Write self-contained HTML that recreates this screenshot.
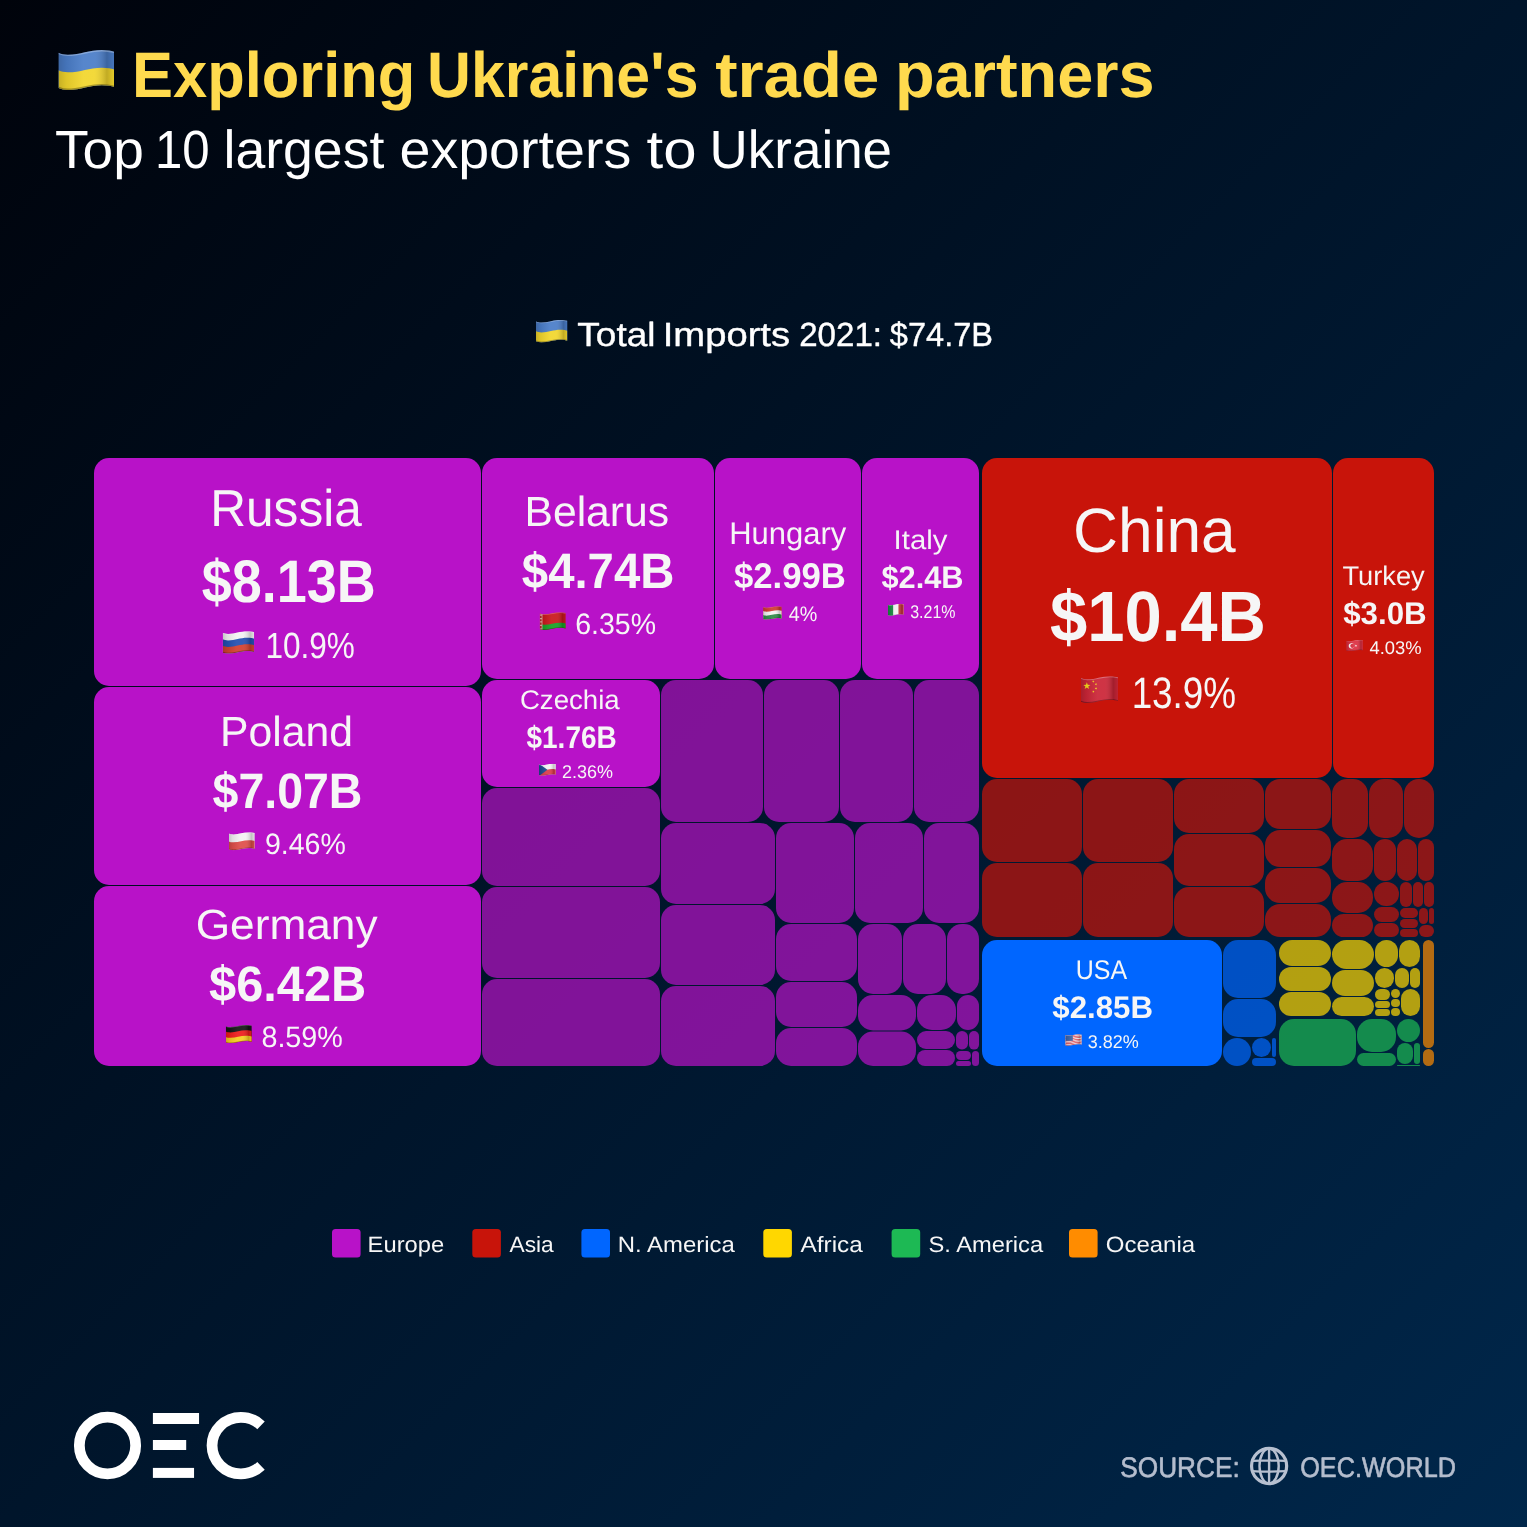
<!DOCTYPE html>
<html lang="en">
<head>
<meta charset="utf-8">
<meta name="viewport" content="width=1527">
<title>Exploring Ukraine's trade partners - Top 10 largest exporters to Ukraine</title>
<style>
html,body{margin:0;padding:0;background:#00122a;}
body{width:1527px;height:1527px;}
#card{position:relative;width:1527px;height:1527px;overflow:hidden;background:linear-gradient(135deg,#00030b 0%,#00274b 100%);}
#art{position:absolute;left:0;top:0;width:1527px;height:1527px;display:block;}
text{font-family:'Liberation Sans',sans-serif;white-space:pre;text-rendering:geometricPrecision;stroke-linejoin:round;}.b{font-weight:bold;}
.eu{fill:#B812C8;}
.as{fill:#C8140A;}
.na{fill:#0066FF;}
.af{fill:#FFD700;}
.sa{fill:#1DB954;}
.oc{fill:#FF8C00;}
.d{fill-opacity:0.7;}
</style>
</head>
<body>
<main id="card">
<svg id="art" width="1527" height="1527" viewBox="0 0 1527 1527">
<defs>
<clipPath id="fc"><path d="M0,4.87C6,7.35 10,8.4 17,8.4C40,8.4 55,0 78,0C88,0 95,1.68 100,3.11L100,66.71C95,65.28 88,63.6 78,63.6C55,63.6 40,72 17,72C10,72 6,70.95 0,68.47Z"/></clipPath>
<linearGradient id="fs" x1="0" y1="0" x2="1" y2="0"><stop offset="0" stop-color="#000" stop-opacity="0.18"/><stop offset="0.14" stop-color="#000" stop-opacity="0.08"/><stop offset="0.45" stop-color="#fff" stop-opacity="0.07"/><stop offset="0.64" stop-color="#fff" stop-opacity="0.07"/><stop offset="0.87" stop-color="#000" stop-opacity="0.2"/><stop offset="1" stop-color="#000" stop-opacity="0.06"/></linearGradient>
<g id="fe" fill="none" stroke-width="5"><path d="M0,4.87C6,7.35 10,8.4 17,8.4C40,8.4 55,0 78,0C88,0 95,1.68 100,3.11" stroke="#fff" stroke-opacity="0.28"/><path d="M0,68.47C6,70.95 10,72 17,72C40,72 55,63.6 78,63.6C88,63.6 95,65.28 100,66.71" stroke="#000" stroke-opacity="0.3"/></g>
</defs>
<g id="treemap">
<rect class="eu" x="94" y="458" width="387" height="228" rx="15"/>
<rect class="eu" x="94" y="687" width="387" height="198" rx="15"/>
<rect class="eu" x="94" y="886" width="387" height="180" rx="15"/>
<rect class="eu" x="482" y="458" width="232" height="221" rx="15"/>
<rect class="eu" x="715" y="458" width="146" height="221" rx="15"/>
<rect class="eu" x="862" y="458" width="117" height="221" rx="15"/>
<rect class="eu" x="482" y="680" width="178" height="107" rx="15"/>
<rect class="as" x="982" y="458" width="350" height="320" rx="15"/>
<rect class="as" x="1333" y="458" width="101" height="320" rx="15"/>
<rect class="na" x="982" y="940" width="240" height="126" rx="15"/>
<rect class="eu d" x="482" y="788" width="178" height="98" rx="15"/>
<rect class="eu d" x="482" y="887" width="178" height="91" rx="15"/>
<rect class="eu d" x="482" y="979" width="178" height="87" rx="15"/>
<rect class="eu d" x="661" y="680" width="102" height="142" rx="15"/>
<rect class="eu d" x="764" y="680" width="75" height="142" rx="15"/>
<rect class="eu d" x="840" y="680" width="73" height="142" rx="15"/>
<rect class="eu d" x="914" y="680" width="65" height="142" rx="15"/>
<rect class="eu d" x="661" y="823" width="114" height="81" rx="15"/>
<rect class="eu d" x="661" y="905" width="114" height="80" rx="15"/>
<rect class="eu d" x="661" y="986" width="114" height="80" rx="15"/>
<rect class="eu d" x="776" y="823" width="78" height="100" rx="15"/>
<rect class="eu d" x="855" y="823" width="68" height="100" rx="15"/>
<rect class="eu d" x="924" y="823" width="55" height="100" rx="15"/>
<rect class="eu d" x="776" y="924" width="81" height="57" rx="15"/>
<rect class="eu d" x="776" y="982" width="81" height="45" rx="15"/>
<rect class="eu d" x="776" y="1028" width="81" height="38" rx="15"/>
<rect class="eu d" x="858" y="924" width="44" height="70" rx="15"/>
<rect class="eu d" x="903" y="924" width="43" height="70" rx="15"/>
<rect class="eu d" x="947" y="924" width="32" height="70" rx="15"/>
<rect class="eu d" x="858" y="995" width="58" height="35.5" rx="15"/>
<rect class="eu d" x="858" y="1031.5" width="58" height="34.5" rx="15"/>
<rect class="eu d" x="917" y="995" width="39" height="35" rx="15"/>
<rect class="eu d" x="957" y="995" width="22" height="35" rx="11"/>
<rect class="eu d" x="917" y="1031" width="38" height="18" rx="9"/>
<rect class="eu d" x="917" y="1050" width="38" height="16" rx="8"/>
<rect class="eu d" x="956" y="1031" width="12" height="18.6" rx="6"/>
<rect class="eu d" x="969" y="1031" width="10" height="18.6" rx="5"/>
<rect class="eu d" x="956" y="1051" width="15" height="9" rx="4.5"/>
<rect class="eu d" x="956" y="1061" width="15" height="5" rx="2.5"/>
<rect class="eu d" x="972" y="1051" width="7" height="15" rx="3.5"/>
<rect class="as d" x="982" y="779" width="100" height="83" rx="15"/>
<rect class="as d" x="982" y="863" width="100" height="74" rx="15"/>
<rect class="as d" x="1083" y="779" width="90" height="83" rx="15"/>
<rect class="as d" x="1083" y="863" width="90" height="74" rx="15"/>
<rect class="as d" x="1174" y="779" width="90" height="54" rx="15"/>
<rect class="as d" x="1174" y="834" width="90" height="52" rx="15"/>
<rect class="as d" x="1174" y="887" width="90" height="50" rx="15"/>
<rect class="as d" x="1265" y="779" width="66" height="50" rx="15"/>
<rect class="as d" x="1265" y="830" width="66" height="37" rx="15"/>
<rect class="as d" x="1265" y="868" width="66" height="35" rx="15"/>
<rect class="as d" x="1265" y="904" width="66" height="33" rx="15"/>
<rect class="as d" x="1332" y="779" width="36" height="59" rx="15"/>
<rect class="as d" x="1369" y="779" width="34" height="59" rx="15"/>
<rect class="as d" x="1404" y="779" width="30" height="59" rx="15"/>
<rect class="as d" x="1332" y="839" width="41" height="42" rx="15"/>
<rect class="as d" x="1332" y="882" width="41" height="31" rx="15"/>
<rect class="as d" x="1332" y="914" width="41" height="23" rx="11.5"/>
<rect class="as d" x="1374" y="839" width="22" height="42" rx="11"/>
<rect class="as d" x="1397" y="839" width="20" height="42" rx="10"/>
<rect class="as d" x="1418" y="839" width="16" height="42" rx="8"/>
<rect class="as d" x="1374" y="882" width="25" height="24" rx="12"/>
<rect class="as d" x="1374" y="907" width="25" height="15" rx="7.5"/>
<rect class="as d" x="1374" y="923" width="25" height="14" rx="7"/>
<rect class="as d" x="1400" y="882" width="12" height="25" rx="6"/>
<rect class="as d" x="1413" y="882" width="10" height="25" rx="5"/>
<rect class="as d" x="1424" y="882" width="10" height="25" rx="5"/>
<rect class="as d" x="1400" y="908" width="18" height="10" rx="5"/>
<rect class="as d" x="1400" y="919" width="18" height="9" rx="4.5"/>
<rect class="as d" x="1400" y="929" width="18" height="8" rx="4"/>
<rect class="as d" x="1419" y="908" width="9" height="16" rx="4.5"/>
<rect class="as d" x="1429" y="908" width="5" height="16" rx="2.5"/>
<rect class="as d" x="1419" y="925" width="15" height="12" rx="6"/>
<rect class="na d" x="1223" y="940" width="53" height="58" rx="15"/>
<rect class="na d" x="1223" y="999" width="53" height="38" rx="15"/>
<rect class="na d" x="1223" y="1038" width="28" height="28" rx="14"/>
<rect class="na d" x="1252" y="1038" width="19" height="19" rx="9.5"/>
<rect class="na d" x="1272" y="1038" width="4" height="19" rx="2"/>
<rect class="na d" x="1252" y="1058" width="24" height="8" rx="4"/>
<rect class="af d" x="1279" y="940" width="52" height="26" rx="13"/>
<rect class="af d" x="1279" y="967" width="52" height="24" rx="12"/>
<rect class="af d" x="1279" y="992" width="52" height="24" rx="12"/>
<rect class="af d" x="1332" y="940" width="42" height="29" rx="14.5"/>
<rect class="af d" x="1332" y="970" width="42" height="26" rx="13"/>
<rect class="af d" x="1332" y="997" width="42" height="19" rx="9.5"/>
<rect class="af d" x="1375" y="940" width="23" height="27" rx="11.5"/>
<rect class="af d" x="1399" y="940" width="21" height="27" rx="10.5"/>
<rect class="af d" x="1375" y="968" width="19" height="20" rx="9.5"/>
<rect class="af d" x="1395" y="968" width="14" height="20" rx="7"/>
<rect class="af d" x="1410" y="968" width="10" height="20" rx="5"/>
<rect class="af d" x="1375" y="989" width="15" height="11" rx="5.5"/>
<rect class="af d" x="1375" y="1001" width="15" height="7" rx="3.5"/>
<rect class="af d" x="1375" y="1009" width="15" height="7" rx="3.5"/>
<rect class="af d" x="1391" y="989" width="9" height="9" rx="4.5"/>
<rect class="af d" x="1391" y="999" width="9" height="8" rx="4"/>
<rect class="af d" x="1391" y="1008" width="9" height="8" rx="4"/>
<rect class="af d" x="1401" y="989" width="19" height="27" rx="9.5"/>
<rect class="sa d" x="1279" y="1019" width="77" height="47" rx="15"/>
<rect class="sa d" x="1357" y="1019" width="39" height="33" rx="15"/>
<rect class="sa d" x="1357" y="1053" width="39" height="13" rx="6.5"/>
<rect class="sa d" x="1397" y="1019" width="23" height="23" rx="11.5"/>
<rect class="sa d" x="1397" y="1043" width="16" height="21" rx="8"/>
<rect class="sa d" x="1414" y="1043" width="6" height="21" rx="3"/>
<rect class="sa d" x="1397" y="1065" width="23" height="1" rx="0.5"/>
<rect class="oc d" x="1423" y="940" width="11" height="108" rx="5.5"/>
<rect class="oc d" x="1423" y="1049" width="11" height="17" rx="5.5"/>
</g>
<g id="legend-swatches">
<rect class="eu" x="332" y="1229" width="28.6" height="28.6" rx="3.5"/>
<rect class="as" x="472.3" y="1229" width="28.6" height="28.6" rx="3.5"/>
<rect class="na" x="581.4" y="1229" width="28.6" height="28.6" rx="3.5"/>
<rect class="af" x="763.3" y="1229" width="28.6" height="28.6" rx="3.5"/>
<rect class="sa" x="891.6" y="1229" width="28.6" height="28.6" rx="3.5"/>
<rect class="oc" x="1069" y="1229" width="28.6" height="28.6" rx="3.5"/>
</g>
<g id="flags">
<g class="flag" transform="translate(58.4 50) scale(0.5570 0.5556)"><g clip-path="url(#fc)"><rect x="-2" y="-2" width="104" height="80" fill="#4A7DC8"/><path d="M0,36.67C6,39.15 10,40.2 17,40.2C40,40.2 55,31.8 78,31.8C88,31.8 95,33.48 100,34.91L100,76L0,76Z" fill="#F2D62C"/><rect x="0" y="0" width="100" height="72" fill="url(#fs)"/><use href="#fe"/></g></g>
<g class="flag" transform="translate(536 319.9) scale(0.3150 0.3125)"><g clip-path="url(#fc)"><rect x="-2" y="-2" width="104" height="80" fill="#4A7DC8"/><path d="M0,36.67C6,39.15 10,40.2 17,40.2C40,40.2 55,31.8 78,31.8C88,31.8 95,33.48 100,34.91L100,76L0,76Z" fill="#F2D62C"/><rect x="0" y="0" width="100" height="72" fill="url(#fs)"/><use href="#fe"/></g></g>
<g class="flag" transform="translate(222.7 631.3) scale(0.3150 0.3083)"><g clip-path="url(#fc)"><rect x="-2" y="-2" width="104" height="80" fill="#F2F2F2"/><path d="M0,26.07C6,28.55 10,29.6 17,29.6C40,29.6 55,21.2 78,21.2C88,21.2 95,22.88 100,24.31L100,76L0,76Z" fill="#2350B2"/><path d="M0,47.27C6,49.75 10,50.8 17,50.8C40,50.8 55,42.4 78,42.4C88,42.4 95,44.08 100,45.51L100,76L0,76Z" fill="#D2402F"/><rect x="0" y="0" width="100" height="72" fill="url(#fs)"/><use href="#fe"/></g></g>
<g class="flag" transform="translate(228.9 832.3) scale(0.2590 0.2486)"><g clip-path="url(#fc)"><rect x="-2" y="-2" width="104" height="80" fill="#F3F3F3"/><path d="M0,36.67C6,39.15 10,40.2 17,40.2C40,40.2 55,31.8 78,31.8C88,31.8 95,33.48 100,34.91L100,76L0,76Z" fill="#DF4F4A"/><rect x="0" y="0" width="100" height="72" fill="url(#fs)"/><use href="#fe"/></g></g>
<g class="flag" transform="translate(225.8 1024.9) scale(0.2600 0.2542)"><g clip-path="url(#fc)"><rect x="-2" y="-2" width="104" height="80" fill="#151515"/><path d="M0,26.07C6,28.55 10,29.6 17,29.6C40,29.6 55,21.2 78,21.2C88,21.2 95,22.88 100,24.31L100,76L0,76Z" fill="#EE1C1C"/><path d="M0,47.27C6,49.75 10,50.8 17,50.8C40,50.8 55,42.4 78,42.4C88,42.4 95,44.08 100,45.51L100,76L0,76Z" fill="#F6CC22"/><rect x="0" y="0" width="100" height="72" fill="url(#fs)"/><use href="#fe"/></g></g>
<g class="flag" transform="translate(539.7 612.3) scale(0.2610 0.2444)"><g clip-path="url(#fc)"><rect x="-2" y="-2" width="104" height="80" fill="#C9181C"/><path d="M0,47.27C6,49.75 10,50.8 17,50.8C40,50.8 55,42.4 78,42.4C88,42.4 95,44.08 100,45.51L100,76L0,76Z" fill="#17A226"/><rect x="-2" y="-2" width="12.5" height="80" fill="#E8B6AE"/><path d="M4,0V80" stroke="#C22B2B" stroke-width="7" stroke-dasharray="9 5" fill="none"/><rect x="0" y="0" width="100" height="72" fill="url(#fs)"/><use href="#fe"/></g></g>
<g class="flag" transform="translate(763.1 606.2) scale(0.1870 0.1861)"><g clip-path="url(#fc)"><rect x="-2" y="-2" width="104" height="80" fill="#D23A32"/><path d="M0,26.07C6,28.55 10,29.6 17,29.6C40,29.6 55,21.2 78,21.2C88,21.2 95,22.88 100,24.31L100,76L0,76Z" fill="#F3F3F3"/><path d="M0,47.27C6,49.75 10,50.8 17,50.8C40,50.8 55,42.4 78,42.4C88,42.4 95,44.08 100,45.51L100,76L0,76Z" fill="#2F8B49"/><rect x="0" y="0" width="100" height="72" fill="url(#fs)"/><use href="#fe"/></g></g>
<g class="flag" transform="translate(887.8 603.9) scale(0.1600 0.1639)"><g clip-path="url(#fc)"><rect x="-2" y="-2" width="104" height="80" fill="#F1F1F1"/><rect x="-2" y="-2" width="35.3" height="80" fill="#1E8C46"/><rect x="66.7" y="-2" width="36" height="80" fill="#C5353E"/><rect x="0" y="0" width="100" height="72" fill="url(#fs)"/><use href="#fe"/></g></g>
<g class="flag" transform="translate(539 763.8) scale(0.1690 0.1653)"><g clip-path="url(#fc)"><rect x="-2" y="-2" width="104" height="80" fill="#F3F3F3"/><path d="M0,36.67C6,39.15 10,40.2 17,40.2C40,40.2 55,31.8 78,31.8C88,31.8 95,33.48 100,34.91L100,76L0,76Z" fill="#D93B49"/><path d="M0,0L50,36L0,74Z" fill="#1F4D8E"/><rect x="0" y="0" width="100" height="72" fill="url(#fs)"/><use href="#fe"/></g></g>
<g class="flag" transform="translate(1080.9 676.2) scale(0.3720 0.3722)"><g clip-path="url(#fc)"><rect x="-2" y="-2" width="104" height="80" fill="#CB2537"/><polygon points="16,16.5 18.35,23.26 25.51,23.41 19.8,27.74 21.88,34.59 16,30.5 10.12,34.59 12.2,27.74 6.49,23.41 13.65,23.26" fill="#F6DA1C"/><polygon points="35.3,10.88 34.82,13.41 37.02,14.75 34.46,15.07 33.88,17.58 32.78,15.25 30.21,15.46 32.09,13.7 31.09,11.32 33.35,12.57" fill="#F6D21E"/><polygon points="42.3,18.38 41.82,20.91 44.02,22.25 41.46,22.57 40.88,25.08 39.78,22.75 37.21,22.96 39.09,21.2 38.09,18.82 40.35,20.07" fill="#F6D21E"/><polygon points="42.3,29.88 41.82,32.41 44.02,33.75 41.46,34.07 40.88,36.58 39.78,34.25 37.21,34.46 39.09,32.7 38.09,30.32 40.35,31.57" fill="#F6D21E"/><polygon points="35.3,38.38 34.82,40.91 37.02,42.25 34.46,42.57 33.88,45.08 32.78,42.75 30.21,42.96 32.09,41.2 31.09,38.82 33.35,40.07" fill="#F6D21E"/><rect x="0" y="0" width="100" height="72" fill="url(#fs)"/><use href="#fe"/></g></g>
<g class="flag" transform="translate(1346.2 639.9) scale(0.1680 0.1569)"><g clip-path="url(#fc)"><rect x="-2" y="-2" width="104" height="80" fill="#DC3042"/><circle cx="32" cy="38" r="17" fill="#FFFFFF"/><circle cx="38" cy="38" r="14" fill="#DC3042"/><polygon points="65.13,34.68 60.85,37.93 62.41,43.07 58,40 53.59,43.07 55.15,37.93 50.87,34.68 56.24,34.57 58,29.5 59.76,34.57" fill="#FFFFFF"/><rect x="0" y="0" width="100" height="72" fill="url(#fs)"/><use href="#fe"/></g></g>
<g class="flag" transform="translate(1065.2 1034.2) scale(0.1660 0.1597)"><g clip-path="url(#fc)"><rect x="-2" y="-2" width="104" height="80" fill="#F4F4F4"/><path d="M0,4.87C6,7.35 10,8.4 17,8.4C40,8.4 55,0 78,0C88,0 95,1.68 100,3.11L100,8C95,6.57 88,4.89 78,4.89C55,4.89 40,13.29 17,13.29C10,13.29 6,12.24 0,9.76Z" fill="#DA3240"/><path d="M0,14.66C6,17.13 10,18.18 17,18.18C40,18.18 55,9.78 78,9.78C88,9.78 95,11.46 100,12.89L100,17.78C95,16.36 88,14.68 78,14.68C55,14.68 40,23.08 17,23.08C10,23.08 6,22.03 0,19.55Z" fill="#DA3240"/><path d="M0,24.44C6,26.92 10,27.97 17,27.97C40,27.97 55,19.57 78,19.57C88,19.57 95,21.25 100,22.68L100,27.57C95,26.14 88,24.46 78,24.46C55,24.46 40,32.86 17,32.86C10,32.86 6,31.81 0,29.33Z" fill="#DA3240"/><path d="M0,34.23C6,36.7 10,37.75 17,37.75C40,37.75 55,29.35 78,29.35C88,29.35 95,31.03 100,32.46L100,37.35C95,35.93 88,34.25 78,34.25C55,34.25 40,42.65 17,42.65C10,42.65 6,41.6 0,39.12Z" fill="#DA3240"/><path d="M0,44.01C6,46.49 10,47.54 17,47.54C40,47.54 55,39.14 78,39.14C88,39.14 95,40.82 100,42.25L100,47.14C95,45.71 88,44.03 78,44.03C55,44.03 40,52.43 17,52.43C10,52.43 6,51.38 0,48.9Z" fill="#DA3240"/><path d="M0,53.8C6,56.27 10,57.32 17,57.32C40,57.32 55,48.92 78,48.92C88,48.92 95,50.6 100,52.03L100,56.92C95,55.5 88,53.82 78,53.82C55,53.82 40,62.22 17,62.22C10,62.22 6,61.17 0,58.69Z" fill="#DA3240"/><path d="M0,63.58C6,66.06 10,67.11 17,67.11C40,67.11 55,58.71 78,58.71C88,58.71 95,60.39 100,61.82L100,66.71C95,65.28 88,63.6 78,63.6C55,63.6 40,72 17,72C10,72 6,70.95 0,68.47Z" fill="#DA3240"/><path d="M0,0H46V41.45H0Z" fill="#3D66AA"/><rect x="0" y="0" width="100" height="72" fill="url(#fs)"/><use href="#fe"/></g></g>
</g>
<g id="logo" role="img" aria-label="OEC logo">
<title>OEC</title>
<ellipse cx="107.5" cy="1445.5" rx="28.15" ry="28.35" fill="none" stroke="#FFFFFF" stroke-width="10.8"/>
<rect x="152.9" y="1413" width="46.15" height="11" fill="#FFFFFF"/>
<rect x="152.9" y="1440" width="33.3" height="10" fill="#FFFFFF"/>
<rect x="152.9" y="1467.9" width="41.15" height="10" fill="#FFFFFF"/>
<ellipse cx="240.9" cy="1445.55" rx="28.85" ry="28.25" fill="none" stroke="#FFFFFF" stroke-width="10.8" pathLength="360" stroke-dasharray="269 91" stroke-dashoffset="-45.5"/>
</g>
<g id="globe" fill="none" stroke="#B7C0D0">
<circle cx="1269.1" cy="1466" r="17.55" stroke-width="3.2"/>
<ellipse cx="1269.1" cy="1466" rx="9.6" ry="17.5" stroke-width="2.4"/>
<path d="M1269.1,1448.5V1483.5M1252.3,1460.9Q1269.1,1459.9 1285.9,1460.9M1252.3,1471.1Q1269.1,1472.1 1285.9,1471.1" stroke-width="2.4"/>
</g>
<g id="labels">
<text class="b" y="97.3" font-size="64.2" fill="#FFDA4E"><tspan x="132.11" textLength="283.14" lengthAdjust="spacingAndGlyphs">Exploring</tspan> <tspan x="427.12" textLength="271.34" lengthAdjust="spacingAndGlyphs">Ukraine's</tspan> <tspan x="715.18" textLength="164.06" lengthAdjust="spacingAndGlyphs">trade</tspan> <tspan x="894.99" textLength="259.63" lengthAdjust="spacingAndGlyphs">partners</tspan></text>
<text y="167.8" font-size="53.67" fill="#FFFFFF"><tspan x="55.09" textLength="88.81" lengthAdjust="spacingAndGlyphs">Top</tspan> <tspan x="154.93" textLength="54.67" lengthAdjust="spacingAndGlyphs">10</tspan> <tspan x="223.53" textLength="160.86" lengthAdjust="spacingAndGlyphs">largest</tspan> <tspan x="399.47" textLength="231.73" lengthAdjust="spacingAndGlyphs">exporters</tspan> <tspan x="646.64" textLength="50.02" lengthAdjust="spacingAndGlyphs">to</tspan> <tspan x="709.61" textLength="182.43" lengthAdjust="spacingAndGlyphs">Ukraine</tspan></text>
<text y="345.8" font-size="33.52" fill="#FFFFFF" stroke="#FFFFFF" stroke-width="0.4"><tspan x="577.35" textLength="78.07" lengthAdjust="spacingAndGlyphs">Total</tspan> <tspan x="662.71" textLength="127.4" lengthAdjust="spacingAndGlyphs">Imports</tspan> <tspan x="799.23" textLength="82.79" lengthAdjust="spacingAndGlyphs">2021:</tspan> <tspan x="889.87" textLength="103.14" lengthAdjust="spacingAndGlyphs">$74.7B</tspan></text>
<text y="526.4" font-size="51.81" fill="#F6F6F6" x="210.25" textLength="151.52" lengthAdjust="spacingAndGlyphs">Russia</text>
<text class="b" y="601.6" font-size="60.07" fill="#F6F6F6" x="201.71" textLength="174.04" lengthAdjust="spacingAndGlyphs">$8.13B</text>
<text y="657.5" font-size="36.38" fill="#F6F6F6" x="265.43" textLength="89.34" lengthAdjust="spacingAndGlyphs">10.9%</text>
<text y="746.1" font-size="42.11" fill="#F6F6F6" x="220.02" textLength="133.04" lengthAdjust="spacingAndGlyphs">Poland</text>
<text class="b" y="807.8" font-size="49.95" fill="#F6F6F6" x="212.58" textLength="149.84" lengthAdjust="spacingAndGlyphs">$7.07B</text>
<text y="853.9" font-size="29.62" fill="#F6F6F6" x="264.95" textLength="80.89" lengthAdjust="spacingAndGlyphs">9.46%</text>
<text y="938.6" font-size="42.11" fill="#F6F6F6" x="195.69" textLength="181.82" lengthAdjust="spacingAndGlyphs">Germany</text>
<text class="b" y="1000.8" font-size="49.95" fill="#F6F6F6" x="209.03" textLength="157.33" lengthAdjust="spacingAndGlyphs">$6.42B</text>
<text y="1046.65" font-size="29.62" fill="#F6F6F6" x="261.43" textLength="81.42" lengthAdjust="spacingAndGlyphs">8.59%</text>
<text y="526.1" font-size="42.11" fill="#F6F6F6" x="524.41" textLength="144.79" lengthAdjust="spacingAndGlyphs">Belarus</text>
<text class="b" y="588" font-size="49.95" fill="#F6F6F6" x="521.83" textLength="152.59" lengthAdjust="spacingAndGlyphs">$4.74B</text>
<text y="633.9" font-size="29.62" fill="#F6F6F6" x="575.23" textLength="80.75" lengthAdjust="spacingAndGlyphs">6.35%</text>
<text y="544.3" font-size="31.3" fill="#F6F6F6" x="729.24" textLength="117.08" lengthAdjust="spacingAndGlyphs">Hungary</text>
<text class="b" y="587.6" font-size="35.65" fill="#F6F6F6" x="733.93" textLength="111.97" lengthAdjust="spacingAndGlyphs">$2.99B</text>
<text y="621.3" font-size="21.01" fill="#F6F6F6" x="788.77" textLength="28.53" lengthAdjust="spacingAndGlyphs">4%</text>
<text y="549.4" font-size="27.01" fill="#F6F6F6" x="893.61" textLength="53.83" lengthAdjust="spacingAndGlyphs">Italy</text>
<text class="b" y="587.7" font-size="31.25" fill="#F6F6F6" x="881.49" textLength="82" lengthAdjust="spacingAndGlyphs">$2.4B</text>
<text y="618.2" font-size="18.42" fill="#F6F6F6" x="910.2" textLength="45.37" lengthAdjust="spacingAndGlyphs">3.21%</text>
<text y="709.2" font-size="27.01" fill="#F6F6F6" x="519.92" textLength="99.79" lengthAdjust="spacingAndGlyphs">Czechia</text>
<text class="b" y="747.7" font-size="31.25" fill="#F6F6F6" x="526.54" textLength="90.12" lengthAdjust="spacingAndGlyphs">$1.76B</text>
<text y="778" font-size="18.42" fill="#F6F6F6" x="561.88" textLength="51.04" lengthAdjust="spacingAndGlyphs">2.36%</text>
<text y="551.8" font-size="62.71" fill="#F6F6F6" x="1073.03" textLength="162.73" lengthAdjust="spacingAndGlyphs">China</text>
<text class="b" y="640.6" font-size="71.3" fill="#F6F6F6" x="1049.94" textLength="215.93" lengthAdjust="spacingAndGlyphs">$10.4B</text>
<text y="708.2" font-size="44.06" fill="#F6F6F6" x="1131.63" textLength="104.49" lengthAdjust="spacingAndGlyphs">13.9%</text>
<text y="584.7" font-size="27.01" fill="#F6F6F6" x="1342.45" textLength="82.28" lengthAdjust="spacingAndGlyphs">Turkey</text>
<text class="b" y="623.75" font-size="31.25" fill="#F6F6F6" x="1343.13" textLength="83.55" lengthAdjust="spacingAndGlyphs">$3.0B</text>
<text y="653.7" font-size="18.42" fill="#F6F6F6" x="1369.47" textLength="52.1" lengthAdjust="spacingAndGlyphs">4.03%</text>
<text y="979.4" font-size="27.01" fill="#F6F6F6" x="1075.83" textLength="51.37" lengthAdjust="spacingAndGlyphs">USA</text>
<text class="b" y="1018.2" font-size="31.25" fill="#F6F6F6" x="1052.27" textLength="100.69" lengthAdjust="spacingAndGlyphs">$2.85B</text>
<text y="1047.9" font-size="18.42" fill="#F6F6F6" x="1087.72" textLength="51.1" lengthAdjust="spacingAndGlyphs">3.82%</text>
<text y="1252.2" font-size="22.19" fill="#F6F6F6" x="367.64" textLength="76.48" lengthAdjust="spacingAndGlyphs">Europe</text>
<text y="1252.2" font-size="22.19" fill="#F6F6F6" x="509.48" textLength="44.24" lengthAdjust="spacingAndGlyphs">Asia</text>
<text y="1252.2" font-size="22.19" fill="#F6F6F6" x="617.83" textLength="116.95" lengthAdjust="spacingAndGlyphs">N. America</text>
<text y="1252.2" font-size="22.19" fill="#F6F6F6" x="800.6" textLength="62.13" lengthAdjust="spacingAndGlyphs">Africa</text>
<text y="1252.2" font-size="22.19" fill="#F6F6F6" x="928.52" textLength="114.62" lengthAdjust="spacingAndGlyphs">S. America</text>
<text y="1252.2" font-size="22.19" fill="#F6F6F6" x="1105.75" textLength="89.31" lengthAdjust="spacingAndGlyphs">Oceania</text>
<text y="1477.49" font-size="28.16" fill="#B4BDCD" stroke="#B4BDCD" stroke-width="0.62" x="1120.3" textLength="119.37" lengthAdjust="spacingAndGlyphs">SOURCE:</text>
<text y="1477.49" font-size="28.16" fill="#B4BDCD" stroke="#B4BDCD" stroke-width="0.62" x="1300.19" textLength="155.75" lengthAdjust="spacingAndGlyphs">OEC.WORLD</text>
</g>
</svg>
</main>
</body>
</html>
